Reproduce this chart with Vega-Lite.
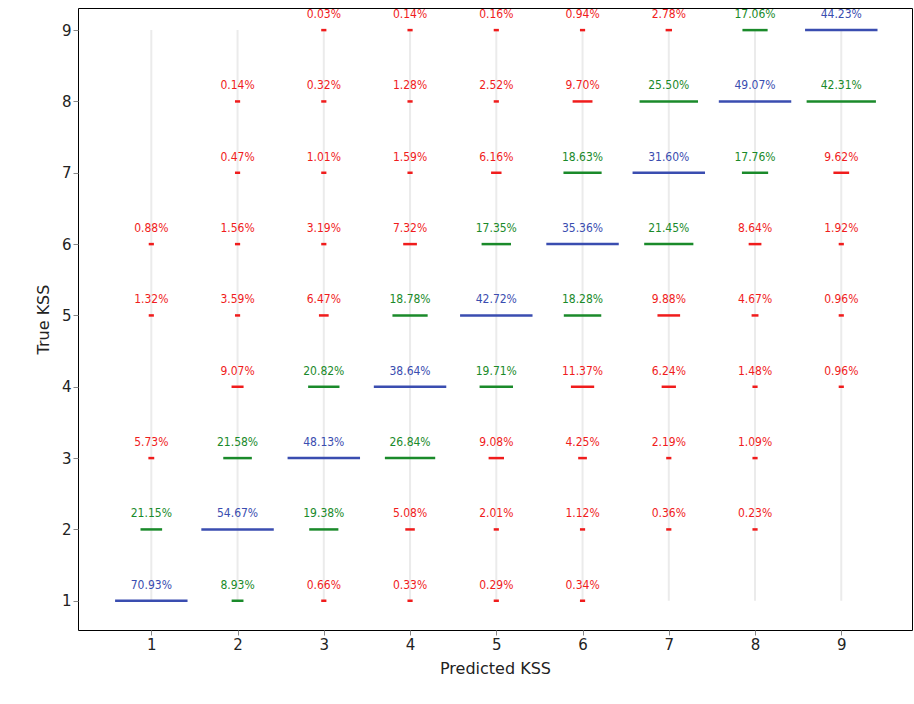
{
"$schema":"https://vega.github.io/schema/vega-lite/v6.json",
"width":834,"height":622,"autosize":{"type":"none"},
"padding":{"left":78,"top":8,"right":2,"bottom":74},
"config":{"view":{"stroke":"black","strokeWidth":1},"font":"DejaVu Sans"},
"data":{"values":[
{"pred":1,"true":1,"pct":70.93},{"pred":1,"true":2,"pct":21.15},{"pred":1,"true":3,"pct":5.73},{"pred":1,"true":5,"pct":1.32},{"pred":1,"true":6,"pct":0.88},
{"pred":2,"true":1,"pct":8.93},{"pred":2,"true":2,"pct":54.67},{"pred":2,"true":3,"pct":21.58},{"pred":2,"true":4,"pct":9.07},{"pred":2,"true":5,"pct":3.59},{"pred":2,"true":6,"pct":1.56},{"pred":2,"true":7,"pct":0.47},{"pred":2,"true":8,"pct":0.14},
{"pred":3,"true":1,"pct":0.66},{"pred":3,"true":2,"pct":19.38},{"pred":3,"true":3,"pct":48.13},{"pred":3,"true":4,"pct":20.82},{"pred":3,"true":5,"pct":6.47},{"pred":3,"true":6,"pct":3.19},{"pred":3,"true":7,"pct":1.01},{"pred":3,"true":8,"pct":0.32},{"pred":3,"true":9,"pct":0.03},
{"pred":4,"true":1,"pct":0.33},{"pred":4,"true":2,"pct":5.08},{"pred":4,"true":3,"pct":26.84},{"pred":4,"true":4,"pct":38.64},{"pred":4,"true":5,"pct":18.78},{"pred":4,"true":6,"pct":7.32},{"pred":4,"true":7,"pct":1.59},{"pred":4,"true":8,"pct":1.28},{"pred":4,"true":9,"pct":0.14},
{"pred":5,"true":1,"pct":0.29},{"pred":5,"true":2,"pct":2.01},{"pred":5,"true":3,"pct":9.08},{"pred":5,"true":4,"pct":19.71},{"pred":5,"true":5,"pct":42.72},{"pred":5,"true":6,"pct":17.35},{"pred":5,"true":7,"pct":6.16},{"pred":5,"true":8,"pct":2.52},{"pred":5,"true":9,"pct":0.16},
{"pred":6,"true":1,"pct":0.34},{"pred":6,"true":2,"pct":1.12},{"pred":6,"true":3,"pct":4.25},{"pred":6,"true":4,"pct":11.37},{"pred":6,"true":5,"pct":18.28},{"pred":6,"true":6,"pct":35.36},{"pred":6,"true":7,"pct":18.63},{"pred":6,"true":8,"pct":9.70},{"pred":6,"true":9,"pct":0.94},
{"pred":7,"true":2,"pct":0.36},{"pred":7,"true":3,"pct":2.19},{"pred":7,"true":4,"pct":6.24},{"pred":7,"true":5,"pct":9.88},{"pred":7,"true":6,"pct":21.45},{"pred":7,"true":7,"pct":31.60},{"pred":7,"true":8,"pct":25.50},{"pred":7,"true":9,"pct":2.78},
{"pred":8,"true":2,"pct":0.23},{"pred":8,"true":3,"pct":1.09},{"pred":8,"true":4,"pct":1.48},{"pred":8,"true":5,"pct":4.67},{"pred":8,"true":6,"pct":8.64},{"pred":8,"true":7,"pct":17.76},{"pred":8,"true":8,"pct":49.07},{"pred":8,"true":9,"pct":17.06},
{"pred":9,"true":4,"pct":0.96},{"pred":9,"true":5,"pct":0.96},{"pred":9,"true":6,"pct":1.92},{"pred":9,"true":7,"pct":9.62},{"pred":9,"true":8,"pct":42.31},{"pred":9,"true":9,"pct":44.23}
]},
"transform":[
{"joinaggregate":[{"op":"max","field":"pct","as":"colmax"}],"groupby":["pred"]},
{"calculate":"max(datum.pct/datum.colmax*0.42,0.03)","as":"hw"},
{"calculate":"datum.pred-datum.hw","as":"xa"},
{"calculate":"datum.pred+datum.hw","as":"xb"},
{"calculate":"abs(datum.pred-datum['true'])==0?'diag':(abs(datum.pred-datum['true'])==1?'adj':'far')","as":"cls"},
{"calculate":"format(datum.pct,'.2f')+'%'","as":"label"}
],
"encoding":{
"x":{"field":"pred","type":"quantitative","scale":{"domain":[0.15,9.82],"nice":false,"zero":false},"axis":{"values":[1,2,3,4,5,6,7,8,9],"grid":false,"title":"Predicted KSS","titleFontSize":16,"titleFontWeight":"normal","titleColor":"#222","labelFontSize":15,"labelColor":"#222","tickSize":5,"domain":false,"titlePadding":8}},
"y":{"field":"true","type":"quantitative","scale":{"domain":[0.59,9.31],"nice":false,"zero":false},"axis":{"values":[1,2,3,4,5,6,7,8,9],"grid":false,"title":"True KSS","titleFontSize":16,"titleFontWeight":"normal","titleColor":"#222","labelFontSize":15,"labelColor":"#222","tickSize":5,"domain":false,"titlePadding":10}}
},
"layer":[
{"transform":[{"aggregate":[{"op":"count","as":"n"}],"groupby":["pred"]},{"calculate":"1","as":"ya"},{"calculate":"9","as":"yb"}],
 "mark":{"type":"rule","color":"#ebebeb","strokeWidth":2},
 "encoding":{"y":{"field":"ya","type":"quantitative"},"y2":{"field":"yb"}}},
{"mark":{"type":"rule","strokeWidth":2.5,"opacity":1},
 "encoding":{"x":{"field":"xa","type":"quantitative"},"x2":{"field":"xb"},
  "color":{"field":"cls","type":"nominal","scale":{"domain":["diag","adj","far"],"range":["#3a4db0","#1a8a2a","#f01c1c"]},"legend":null}}},
{"mark":{"type":"text","dy":-16,"fontSize":12,"font":"DejaVu Sans Condensed"},
 "encoding":{"text":{"field":"label"},
  "color":{"field":"cls","type":"nominal","scale":{"domain":["diag","adj","far"],"range":["#3a4db0","#1a8a2a","#f01c1c"]},"legend":null}}}
]
}
